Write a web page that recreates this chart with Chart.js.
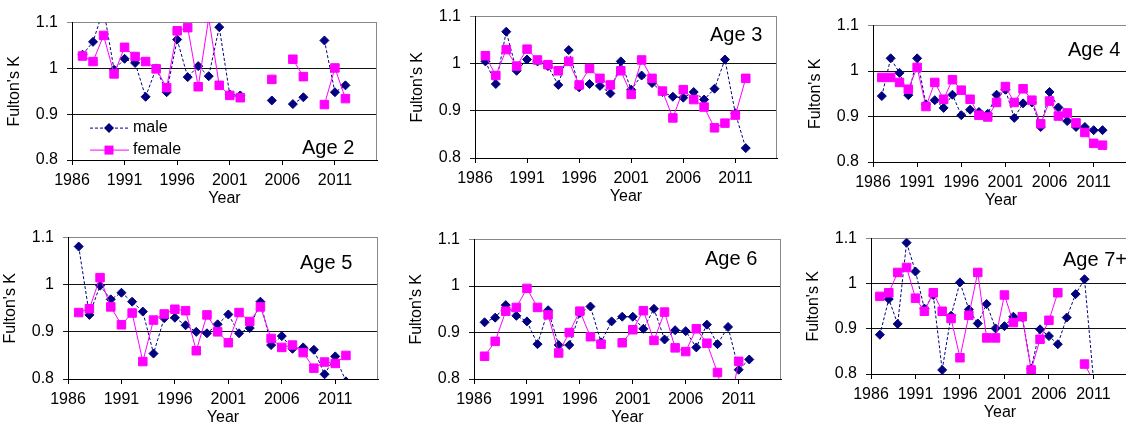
<!DOCTYPE html>
<html>
<head>
<meta charset="utf-8">
<script src="https://cdn.jsdelivr.net/npm/chart.js@4.4.0/dist/chart.umd.min.js"></script>
<style>
  html, body { margin: 0; padding: 0; background: #fff; overflow: hidden; }
  body { width: 1126px; height: 429px; position: relative; }
  canvas { position: absolute; }
</style>
</head>
<body>
<canvas id="age2"></canvas>
<canvas id="age3"></canvas>
<canvas id="age4"></canvas>
<canvas id="age5"></canvas>
<canvas id="age6"></canvas>
<canvas id="age7"></canvas>
<script>
// Survey years and axis ticks
const YEARS = [1987, 1988, 1989, 1990, 1991, 1992, 1993, 1994, 1995, 1996, 1997, 1998, 1999,
               2000, 2001, 2002, 2003, 2004, 2005, 2006, 2007, 2008, 2009, 2010, 2011, 2012];
const X_TICKS = [1986, 1991, 1996, 2001, 2006, 2011];
const Y_TICKS = [0.8, 0.9, 1, 1.1];

// Fulton's condition factor K by age class (null = no sample that year)
const AGE2_MALE   = [1.030, 1.058, 1.130, 0.997, 1.021, 1.012, 0.938, 1.000, 0.948, 1.063, 0.981, 1.005, 0.983,
                     1.090, 0.943, 0.941, null, null, 0.930, null, 0.922, 0.937, null, 1.061, 0.948, 0.963];
const AGE2_FEMALE = [1.027, 1.015, 1.072, 0.988, 1.046, 1.026, 1.015, 0.999, 0.958, 1.082, 1.089, 0.960, 1.110,
                     0.963, 0.941, 0.936, null, null, 0.976, null, 1.020, 0.982, null, 0.921, 1.001, 0.934];

const AGE3_MALE   = [1.005, 0.957, 1.068, 0.985, 1.009, 1.005, 0.995, 0.955, 1.029, 0.950, 0.957, 0.953, 0.937,
                     1.005, 0.945, 0.975, 0.959, 0.940, 0.930, 0.928, 0.940, 0.924, 0.947, 1.009, 0.895, 0.821];
const AGE3_FEMALE = [1.017, 0.975, 1.030, 0.995, 1.031, 1.008, 0.998, 0.985, 1.005, 0.955, 0.990, 0.969, 0.955,
                     0.985, 0.935, 1.008, 0.969, 0.942, 0.885, 0.945, 0.924, 0.908, 0.864, 0.874, 0.891, 0.969];

const AGE4_MALE   = [0.945, 1.028, 0.996, 0.947, 1.028, 0.927, 0.936, 0.919, 0.948, 0.903, 0.915, 0.910, 0.906,
                     0.948, 0.959, 0.897, 0.929, 0.931, 0.877, 0.954, 0.920, 0.890, 0.877, 0.877, 0.870, 0.870];
const AGE4_FEMALE = [0.986, 0.986, 0.975, 0.960, 1.008, 0.922, 0.975, 0.938, 0.981, 0.958, 0.938, 0.903, 0.899,
                     0.931, 0.966, 0.931, 0.961, 0.936, 0.884, 0.934, 0.901, 0.908, 0.886, 0.865, 0.841, 0.837];

const AGE5_MALE   = [1.081, 0.936, 0.998, 0.969, 0.983, 0.964, 0.943, 0.854, 0.929, 0.930, 0.914, 0.900, 0.897,
                     0.916, 0.937, 0.897, 0.908, 0.964, 0.872, 0.891, 0.864, 0.867, 0.862, 0.810, 0.848, 0.795];
const AGE5_FEMALE = [0.941, 0.949, 1.015, 0.953, 0.915, 0.940, 0.837, 0.925, 0.938, 0.948, 0.945, 0.860, 0.936,
                     0.900, 0.877, 0.941, 0.922, 0.953, 0.886, 0.867, 0.872, 0.856, 0.823, 0.836, 0.833, 0.850];

const AGE6_MALE   = [0.922, 0.932, 0.959, 0.936, 0.924, 0.875, 0.948, 0.873, 0.873, 0.942, 0.956, 0.879, 0.924,
                     0.934, 0.934, 0.908, 0.951, 0.885, 0.905, 0.903, 0.868, 0.917, 0.875, 0.912, 0.820, 0.842];
const AGE6_FEMALE = [0.849, 0.881, 0.946, 0.954, 0.995, 0.954, 0.938, 0.856, 0.900, 0.946, 0.891, 0.875, null,
                     0.878, 0.906, 0.947, 0.883, 0.944, 0.867, 0.859, 0.908, 0.877, 0.814, 0.720, 0.838, null];

const AGE7_MALE   = [0.887, 0.966, 0.911, 1.091, 1.027, 0.945, 0.975, 0.809, 0.929, 1.003, 0.943, 0.912, 0.955,
                     0.901, 0.906, 0.927, 0.926, 0.812, 0.899, 0.884, 0.866, 0.925, 0.977, 1.010, 0.790, null];
const AGE7_FEMALE = [0.972, 0.980, 1.025, 1.036, 0.968, 0.939, 0.980, 0.939, 0.923, 0.836, 0.930, 1.025, 0.880,
                     0.880, 0.975, 0.914, 0.927, 0.809, 0.877, 0.919, 0.980, null, null, 0.822, 0.785, null];

const FONT = "'Liberation Sans', Arial, sans-serif";
const AXIS_W = 72;   // room for y tick labels + title
const AXIS_H = 52;   // room for x tick labels + title
const PAD_TOP = 10;
const PAD_RIGHT = 2;

// plot area [left, top, right, bottom] on the page, and where the age tag sits inside it
const panels = [
  { id: 'age2', tag: 'Age 2',  male: AGE2_MALE, female: AGE2_FEMALE, area: [72, 14, 382, 160],   tagAt: [230, 126], legend: true },
  { id: 'age3', tag: 'Age 3',  male: AGE3_MALE, female: AGE3_FEMALE, area: [475, 8, 782, 158],   tagAt: [235, 19] },
  { id: 'age4', tag: 'Age 4',  male: AGE4_MALE, female: AGE4_FEMALE, area: [873, 17, 1134, 162], tagAt: [195, 25] },
  { id: 'age5', tag: 'Age 5',  male: AGE5_MALE, female: AGE5_FEMALE, area: [68, 229, 383, 379],  tagAt: [232, 26] },
  { id: 'age6', tag: 'Age 6',  male: AGE6_MALE, female: AGE6_FEMALE, area: [474, 231, 786, 379], tagAt: [231, 20] },
  { id: 'age7', tag: 'Age 7+', male: AGE7_MALE, female: AGE7_FEMALE, area: [871, 230, 1134, 374], tagAt: [192, 22] }
];

const MALE_COLOR = '#000080';
const FEMALE_COLOR = '#FF00FF';

function diamond(ctx, x, y, r) {
  ctx.beginPath();
  ctx.moveTo(x - r, y); ctx.lineTo(x, y - r); ctx.lineTo(x + r, y); ctx.lineTo(x, y + r);
  ctx.closePath();
  ctx.fill();
}

// right frame line, age tag and (first panel only) the series key
const decorations = {
  id: 'decorations',
  afterDraw(chart, args, opts) {
    const { ctx, chartArea: a } = chart;
    ctx.save();
    ctx.strokeStyle = '#888';
    ctx.lineWidth = 1;
    ctx.beginPath();
    ctx.moveTo(Math.round(a.right) - 0.5, a.top);
    ctx.lineTo(Math.round(a.right) - 0.5, a.bottom);
    ctx.stroke();

    ctx.fillStyle = '#000';
    ctx.font = '20px ' + FONT;
    ctx.textBaseline = 'middle';
    ctx.textAlign = 'left';
    ctx.fillText(opts.tag, a.left + opts.tagAt[0], a.top + opts.tagAt[1]);

    if (opts.legend) {
      const x0 = a.left + 18, x1 = a.left + 57, mx = a.left + 37, tx = a.left + 61;
      const ym = a.top + 105, yf = a.top + 127;
      ctx.lineWidth = 1;
      ctx.strokeStyle = MALE_COLOR;
      ctx.setLineDash([3, 2]);
      ctx.beginPath(); ctx.moveTo(x0, ym + 0.5); ctx.lineTo(x1, ym + 0.5); ctx.stroke();
      ctx.setLineDash([]);
      ctx.fillStyle = MALE_COLOR;
      diamond(ctx, mx, ym + 0.5, 5);
      ctx.strokeStyle = FEMALE_COLOR;
      ctx.beginPath(); ctx.moveTo(x0, yf + 0.5); ctx.lineTo(x1, yf + 0.5); ctx.stroke();
      ctx.fillStyle = FEMALE_COLOR;
      ctx.fillRect(mx - 4.5, yf - 4, 9, 9);
      ctx.fillStyle = '#000';
      ctx.font = '16px ' + FONT;
      ctx.fillText('male', tx, ym);
      ctx.fillText('female', tx, yf);
    }
    ctx.restore();
  }
};

function series(values) {
  return YEARS.map((yr, i) => ({ x: yr, y: values[i] }));
}

panels.forEach(p => {
  const [l, t, r, b] = p.area;
  const canvas = document.getElementById(p.id);
  canvas.width = r - l + AXIS_W + PAD_RIGHT;
  canvas.height = b - t + PAD_TOP + AXIS_H;
  canvas.style.left = (l - AXIS_W) + 'px';
  canvas.style.top = (t - PAD_TOP) + 'px';

  new Chart(canvas.getContext('2d'), {
    type: 'line',
    data: {
      datasets: [
        {
          label: 'male',
          data: series(p.male),
          order: 1,
          borderColor: MALE_COLOR,
          borderWidth: 1,
          borderDash: [3, 2],
          pointStyle: 'rectRot',
          pointRadius: 4.5,
          pointBackgroundColor: MALE_COLOR,
          pointBorderColor: MALE_COLOR,
          pointBorderWidth: 1,
          tension: 0,
          clip: { left: false, right: false, top: 0, bottom: 0 }
        },
        {
          label: 'female',
          data: series(p.female),
          order: 0,
          borderColor: FEMALE_COLOR,
          borderWidth: 1,
          pointStyle: 'rect',
          pointRadius: 6,
          pointBackgroundColor: FEMALE_COLOR,
          pointBorderColor: FEMALE_COLOR,
          pointBorderWidth: 1,
          tension: 0,
          clip: { left: false, right: false, top: 0, bottom: 0 }
        }
      ]
    },
    options: {
      responsive: false,
      animation: false,
      events: [],
      spanGaps: false,
      layout: { padding: { top: PAD_TOP, right: PAD_RIGHT, left: 0, bottom: 0 } },
      plugins: {
        legend: { display: false },
        tooltip: { enabled: false },
        decorations: { tag: p.tag, tagAt: p.tagAt, legend: !!p.legend }
      },
      scales: {
        x: {
          type: 'linear',
          min: 1986,
          max: 2015,
          afterBuildTicks: s => { s.ticks = X_TICKS.map(v => ({ value: v })); },
          afterFit: s => { s.height = AXIS_H; },
          ticks: {
            callback: v => String(v),
            color: '#000',
            font: { family: FONT, size: 16 },
            padding: 6,
            maxRotation: 0,
            autoSkip: false
          },
          grid: { drawOnChartArea: false, tickLength: 5, color: '#000' },
          border: { color: '#000' },
          title: {
            display: true,
            text: 'Year',
            color: '#000',
            font: { family: FONT, size: 16 },
            padding: { top: 0, bottom: 4 }
          }
        },
        y: {
          min: 0.8,
          max: 1.1,
          afterBuildTicks: s => { s.ticks = Y_TICKS.map(v => ({ value: v })); },
          afterFit: s => { s.width = AXIS_W; },
          ticks: {
            callback: v => String(v),
            color: '#000',
            font: { family: FONT, size: 16 },
            padding: 9
          },
          grid: {
            color: c => (c.tick && c.tick.value === 1.1 ? '#888' : '#111'),
            tickLength: 5
          },
          border: { color: '#000' },
          title: {
            display: true,
            text: "Fulton's K",
            color: '#000',
            font: { family: FONT, size: 16 },
            padding: { top: 5, bottom: 0 }
          }
        }
      }
    },
    plugins: [decorations]
  });
});
</script>
</body>
</html>
